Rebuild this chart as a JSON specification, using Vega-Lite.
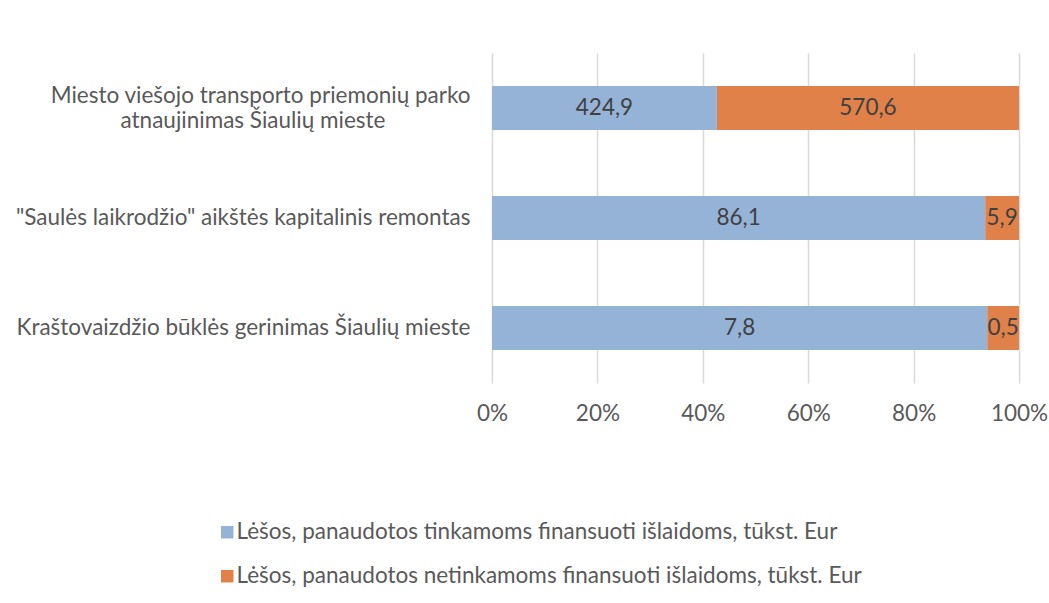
{
  "$schema": "https://vega.github.io/schema/vega-lite/v6.json",
  "width": 527,
  "height": 330,
  "autosize": {"type": "none"},
  "padding": {"left": 492, "top": 53, "right": 30, "bottom": 220},
  "background": "white",
  "config": {
    "view": {"stroke": null},
    "font": "Lato",
    "locale": {"number": {"decimal": ",", "thousands": " ", "grouping": [3], "currency": ["", " €"]}}
  },
  "data": {
    "values": [
      {"category": "Miesto viešojo transporto priemonių parko atnaujinimas Šiaulių mieste", "series": "Lėšos, panaudotos tinkamoms finansuoti išlaidoms, tūkst. Eur", "value": 424.9},
      {"category": "Miesto viešojo transporto priemonių parko atnaujinimas Šiaulių mieste", "series": "Lėšos, panaudotos netinkamoms finansuoti išlaidoms, tūkst. Eur", "value": 570.6},
      {"category": "\"Saulės laikrodžio\" aikštės kapitalinis remontas", "series": "Lėšos, panaudotos tinkamoms finansuoti išlaidoms, tūkst. Eur", "value": 86.1},
      {"category": "\"Saulės laikrodžio\" aikštės kapitalinis remontas", "series": "Lėšos, panaudotos netinkamoms finansuoti išlaidoms, tūkst. Eur", "value": 5.9},
      {"category": "Kraštovaizdžio būklės gerinimas Šiaulių mieste", "series": "Lėšos, panaudotos tinkamoms finansuoti išlaidoms, tūkst. Eur", "value": 7.8},
      {"category": "Kraštovaizdžio būklės gerinimas Šiaulių mieste", "series": "Lėšos, panaudotos netinkamoms finansuoti išlaidoms, tūkst. Eur", "value": 0.5}
    ]
  },
  "transform": [
    {"stack": "value", "groupby": ["category"], "offset": "normalize", "sort": [{"field": "series", "order": "descending"}], "as": ["x0", "x1"]}
  ],
  "encoding": {
    "y": {
      "field": "category",
      "type": "nominal",
      "sort": null,
      "title": null,
      "scale": {"paddingInner": 0.6, "paddingOuter": 0.3},
      "axis": {
        "domain": false,
        "ticks": false,
        "labelPadding": 22,
        "labelFontSize": 22.5,
        "labelColor": "#595959",
        "labelLimit": 500,
        "labelLineHeight": 25,
        "labelOffset": {"condition": {"test": "datum.value == 'Miesto viešojo transporto priemonių parko atnaujinimas Šiaulių mieste'", "value": -12.5}, "value": 0},
        "labelExpr": "datum.label == 'Miesto viešojo transporto priemonių parko atnaujinimas Šiaulių mieste' ? ['Miesto viešojo transporto priemonių parko', 'atnaujinimas Šiaulių mieste\u2800\u2800\u2800\u2800\u2800'] : datum.label"
      }
    }
  },
  "layer": [
    {
      "mark": {"type": "bar"},
      "encoding": {
        "x": {
          "field": "x0",
          "type": "quantitative",
          "scale": {"domain": [0, 1], "nice": false},
          "title": null,
          "axis": {
            "format": ".0%",
            "values": [0, 0.2, 0.4, 0.6, 0.8, 1],
            "domain": false,
            "ticks": false,
            "grid": true,
            "gridColor": "#d9d9d9",
            "gridWidth": 1.5,
            "labelFlush": false,
            "labelPadding": 19,
            "labelFontSize": 22.5,
            "labelColor": "#595959"
          }
        },
        "x2": {"field": "x1"},
        "color": {
          "field": "series",
          "type": "nominal",
          "scale": {
            "domain": ["Lėšos, panaudotos tinkamoms finansuoti išlaidoms, tūkst. Eur", "Lėšos, panaudotos netinkamoms finansuoti išlaidoms, tūkst. Eur"],
            "range": ["#95B3D7", "#DF8148"]
          },
          "legend": {
            "orient": "none",
            "legendX": -276,
            "legendY": 468,
            "title": null,
            "symbolType": "square",
            "symbolSize": 156,
            "symbolStrokeWidth": 0,
            "labelFontSize": 22.5,
            "labelColor": "#595959",
            "labelLimit": 800,
            "rowPadding": 21,
            "labelOffset": -2
          }
        }
      }
    },
    {
      "transform": [
        {"fold": ["x0", "x1"], "as": ["edge", "pos"]},
        {"aggregate": [{"op": "mean", "field": "pos", "as": "mid"}], "groupby": ["category", "series", "value"]}
      ],
      "mark": {"type": "text", "fontSize": 22.5, "color": "#404040", "align": "center", "baseline": "middle"},
      "encoding": {
        "x": {"field": "mid", "type": "quantitative"},
        "text": {"field": "value", "type": "quantitative", "format": ".1f"}
      }
    }
  ]
}
